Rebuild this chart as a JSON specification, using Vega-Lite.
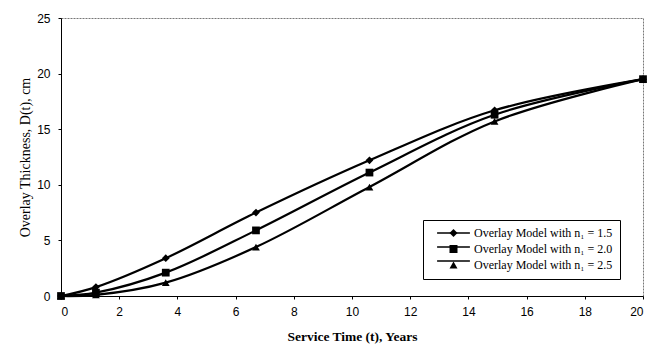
{
  "$schema": "https://vega.github.io/schema/vega-lite/v6.json",
  "width": 582,
  "height": 278,
  "autosize": {"type": "none"},
  "padding": {"left": 61, "top": 18, "right": 15, "bottom": 53},
  "background": "white",
  "config": {
    "view": {"stroke": "#777", "strokeWidth": 1, "strokeDash": [2, 1]},
    "axis": {"grid": false, "domainColor": "black", "tickColor": "black", "labelColor": "black", "titleColor": "black", "labelFont": "Liberation Sans", "labelFontSize": 12, "titleFont": "Liberation Serif"}
  },
  "data": {
    "values": [
      {"t": 0, "D": 0, "s": "Overlay Model with n₁ = 1.5"},
      {"t": 1.2, "D": 0.8, "s": "Overlay Model with n₁ = 1.5"},
      {"t": 3.6, "D": 3.4, "s": "Overlay Model with n₁ = 1.5"},
      {"t": 6.7, "D": 7.5, "s": "Overlay Model with n₁ = 1.5"},
      {"t": 10.6, "D": 12.2, "s": "Overlay Model with n₁ = 1.5"},
      {"t": 14.9, "D": 16.7, "s": "Overlay Model with n₁ = 1.5"},
      {"t": 20, "D": 19.5, "s": "Overlay Model with n₁ = 1.5"},
      {"t": 0, "D": 0, "s": "Overlay Model with n₁ = 2.0"},
      {"t": 1.2, "D": 0.3, "s": "Overlay Model with n₁ = 2.0"},
      {"t": 3.6, "D": 2.1, "s": "Overlay Model with n₁ = 2.0"},
      {"t": 6.7, "D": 5.9, "s": "Overlay Model with n₁ = 2.0"},
      {"t": 10.6, "D": 11.1, "s": "Overlay Model with n₁ = 2.0"},
      {"t": 14.9, "D": 16.3, "s": "Overlay Model with n₁ = 2.0"},
      {"t": 20, "D": 19.5, "s": "Overlay Model with n₁ = 2.0"},
      {"t": 0, "D": 0, "s": "Overlay Model with n₁ = 2.5"},
      {"t": 1.2, "D": 0.1, "s": "Overlay Model with n₁ = 2.5"},
      {"t": 3.6, "D": 1.2, "s": "Overlay Model with n₁ = 2.5"},
      {"t": 6.7, "D": 4.4, "s": "Overlay Model with n₁ = 2.5"},
      {"t": 10.6, "D": 9.8, "s": "Overlay Model with n₁ = 2.5"},
      {"t": 14.9, "D": 15.7, "s": "Overlay Model with n₁ = 2.5"},
      {"t": 20, "D": 19.5, "s": "Overlay Model with n₁ = 2.5"}
    ]
  },
  "encoding": {
    "x": {
      "field": "t", "type": "quantitative",
      "scale": {"domain": [0, 20], "nice": false},
      "axis": {"values": [0, 2, 4, 6, 8, 10, 12, 14, 16, 18, 20], "tickSize": 3, "labelPadding": 7, "title": "Service Time (t), Years", "titleFontSize": 13.5, "titleFontWeight": "bold", "titlePadding": 12}
    },
    "y": {
      "field": "D", "type": "quantitative",
      "scale": {"domain": [0, 25], "nice": false},
      "axis": {"values": [0, 5, 10, 15, 20, 25], "tickSize": 3, "labelPadding": 8, "title": "Overlay Thickness, D(t), cm", "titleFontSize": 14, "titleFontWeight": "normal", "titlePadding": 4}
    }
  },
  "layer": [
    {
      "mark": {"type": "line", "interpolate": "catmull-rom", "strokeWidth": 2.2},
      "encoding": {
        "color": {
          "field": "s", "type": "nominal",
          "scale": {"domain": ["Overlay Model with n₁ = 1.5", "Overlay Model with n₁ = 2.0", "Overlay Model with n₁ = 2.5"], "range": ["black", "black", "black"]},
          "legend": {
            "title": null,
            "orient": "none",
            "legendX": 362,
            "legendY": 202,
            "padding": 7,
            "strokeColor": "transparent",
            "fillColor": "transparent",
            "symbolType": "M-4.1,0H4.1",
            "symbolSize": 64,
            "symbolStrokeWidth": 1.5,
            "symbolStrokeColor": "black",
            "symbolOffset": 17.5,
            "labelFont": "Liberation Serif",
            "labelFontSize": 12,
            "labelColor": "black",
            "labelExpr": "' '",
            "labelOffset": 14.5,
            "rowPadding": 2
          }
        }
      }
    },
    {
      "mark": {"type": "point", "filled": true, "color": "black", "opacity": 1},
      "encoding": {
        "shape": {
          "field": "s", "type": "nominal",
          "scale": {"range": ["diamond", "square", "triangle-up"]},
          "legend": {
            "title": null,
            "orient": "none",
            "legendX": 362,
            "legendY": 202,
            "padding": 7,
            "strokeColor": "black",
            "fillColor": "transparent",
            "symbolSize": 64,
            "symbolStrokeWidth": 1.5,
            "symbolFillColor": "black",
            "symbolStrokeColor": "black",
            "symbolOffset": 17.5,
            "labelFont": "Liberation Serif",
            "labelFontSize": 12,
            "labelColor": "black",
            "labelOffset": 14.5,
            "rowPadding": 2
          }
        },
        "size": {"value": 60}
      }
    }
  ]
}
